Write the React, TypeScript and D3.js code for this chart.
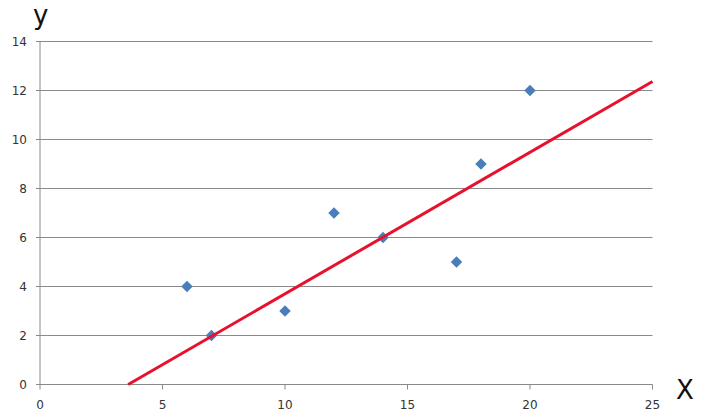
import { useEffect, useRef } from "react";
import * as d3 from "d3";

const xs = [6, 7, 10, 12, 14, 17, 18, 20];
const ys = [4, 2, 3, 7, 6, 5, 9, 12];
const trendX = [3.6, 25];
const trendY = [0, 12.37];
const xTicks = [0, 5, 10, 15, 20, 25];
const yTicks = [0, 2, 4, 6, 8, 10, 12, 14];

export default function App() {
  const svgRef = useRef<SVGSVGElement>(null);
  const width = 709;
  const height = 419;

  useEffect(() => {
    const svg = d3.select(svgRef.current);
    svg.selectAll("*").remove();

    const x = d3.scaleLinear().domain([0, 25]).range([40, 652.5]);
    const y = d3.scaleLinear().domain([0, 14]).range([384.5, 41.5]);

    // grid
    svg
      .selectAll(".grid")
      .data(yTicks)
      .join("line")
      .attr("x1", 36)
      .attr("x2", x(25))
      .attr("y1", (d) => y(d))
      .attr("y2", (d) => y(d))
      .style("stroke", "#8a8a8a")
      .style("stroke-width", 1);

    // y axis line
    svg
      .append("line")
      .attr("x1", x(0))
      .attr("x2", x(0))
      .attr("y1", y(14))
      .attr("y2", y(0))
      .style("stroke", "#8a8a8a");

    // x ticks
    svg
      .selectAll(".xtick")
      .data(xTicks)
      .join("line")
      .attr("x1", (d) => x(d))
      .attr("x2", (d) => x(d))
      .attr("y1", y(0))
      .attr("y2", y(0) + 5)
      .style("stroke", "#8a8a8a");

    svg
      .selectAll(".ylab")
      .data(yTicks)
      .join("text")
      .attr("x", 27)
      .attr("y", (d) => y(d) + 4.5)
      .attr("text-anchor", "end")
      .style("font-family", "DejaVu Sans")
      .style("font-size", "12px")
      .style("fill", "#333")
      .text((d) => d);

    svg
      .selectAll(".xlab")
      .data(xTicks)
      .join("text")
      .attr("x", (d) => x(d))
      .attr("y", 408.5)
      .attr("text-anchor", "middle")
      .style("font-family", "DejaVu Sans")
      .style("font-size", "12px")
      .style("fill", "#333")
      .text((d) => d);

    // points
    const diamond = d3.symbol().type(d3.symbolDiamond2).size(85);
    svg
      .selectAll(".dot")
      .data(xs.map((d, i) => [d, ys[i]]))
      .join("path")
      .attr("d", diamond)
      .attr("transform", (d) => `translate(${x(d[0])},${y(d[1])})`)
      .style("fill", "#4a7ebb");

    // trend line
    svg
      .append("path")
      .datum(trendX.map((d, i) => [d, trendY[i]] as [number, number]))
      .attr(
        "d",
        d3
          .line<[number, number]>()
          .x((d) => x(d[0]))
          .y((d) => y(d[1]))
      )
      .style("fill", "none")
      .style("stroke", "#e8112d")
      .style("stroke-width", 3);

    svg
      .append("text")
      .attr("x", 33)
      .attr("y", 24)
      .style("font-family", "DejaVu Sans")
      .style("font-size", "26px")
      .style("fill", "#111")
      .text("y");

    svg
      .append("text")
      .attr("x", 676)
      .attr("y", 399)
      .style("font-family", "DejaVu Sans")
      .style("font-size", "26px")
      .style("fill", "#111")
      .text("X");
  }, []);

  return (
    <svg
      ref={svgRef}
      width={width}
      height={height}
      style={{ position: "absolute", left: 0, top: 0, background: "white" }}
    ></svg>
  );
}
